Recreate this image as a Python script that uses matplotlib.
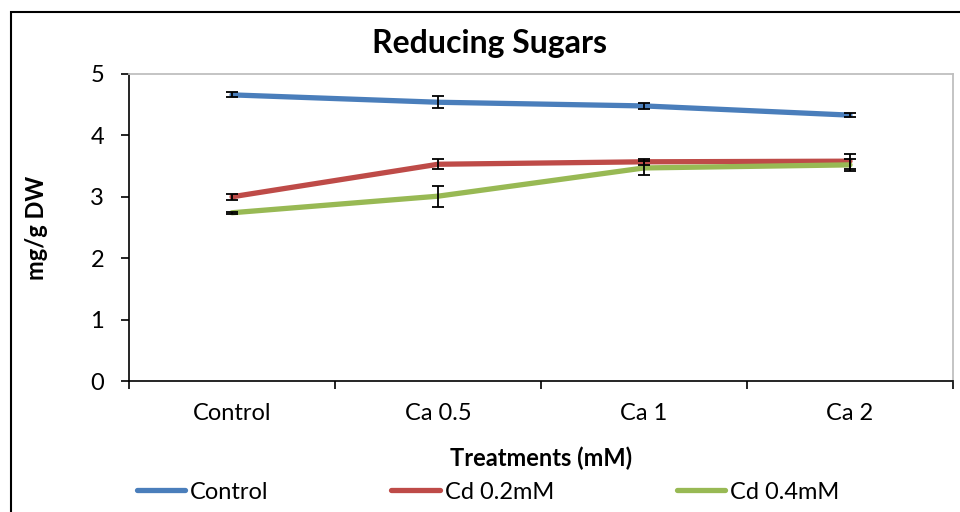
import matplotlib.pyplot as plt
from matplotlib.patches import Rectangle

plt.rcParams['font.family'] = ['Lato', 'DejaVu Sans']

treatments = ['Control', 'Ca 0.5', 'Ca 1', 'Ca 2']
series_names = ['Control', 'Cd 0.2mM', 'Cd 0.4mM']
control_vals = [4.66, 4.54, 4.48, 4.33]
control_err = [0.04, 0.10, 0.05, 0.03]
cd02_vals = [3.00, 3.53, 3.57, 3.58]
cd02_err = [0.05, 0.08, 0.05, 0.12]
cd04_vals = [2.74, 3.01, 3.47, 3.52]
cd04_err = [0.02, 0.17, 0.12, 0.10]
colors = ['#4A7EBB', '#BE4B48', '#98B954']

fig = plt.figure(figsize=(9.6, 5.12), dpi=100)
ax = fig.add_axes([129 / 960, 1 - 381 / 512, 824 / 960, 307 / 512])

x = range(len(treatments))
handles = []
for vals, err, c, name in zip([control_vals, cd02_vals, cd04_vals],
                              [control_err, cd02_err, cd04_err],
                              colors, series_names):
    ln, = ax.plot(x, vals, color=c, lw=3.8, solid_capstyle='round', label=name, zorder=2)
    ax.errorbar(x, vals, yerr=err, fmt='none', ecolor='black', elinewidth=1.3,
                capsize=4.5, capthick=1.3, zorder=3)
    handles.append(ln)

ax.set_xlim(-0.5, len(treatments) - 0.5)
ax.set_ylim(0, 5)
ax.set_yticks(range(6))
# ticks sit between categories, labels at category centres
ax.set_xticks([i + 0.5 for i in range(-1, len(treatments))], minor=False)
ax.set_xticklabels([])
ax.set_xticks(list(x), minor=True)
ax.set_xticklabels(treatments, minor=True)
ax.tick_params(axis='x', which='minor', length=0, labelsize=17, pad=16)
ax.tick_params(axis='x', which='major', length=6, direction='out', width=1.2)
ax.tick_params(axis='y', length=6, direction='out', width=1.2, labelsize=17, pad=12)

for s in ['top', 'right']:
    ax.spines[s].set_color('#BFBFBF')
    ax.spines[s].set_linewidth(1.3)
for s in ['left', 'bottom']:
    ax.spines[s].set_color('black')
    ax.spines[s].set_linewidth(1.2)

fig.text(490 / 960, 1 - 43 / 512, 'Reducing Sugars', fontsize=23, fontweight='bold',
         ha='center', va='center')
ax.set_xlabel('Treatments (mM)', fontsize=17, fontweight='bold', labelpad=16)
ax.set_ylabel('mg/g DW', fontsize=17, fontweight='bold', labelpad=30)

fig.legend(handles=handles, loc='center', bbox_to_anchor=(488 / 960, 0.039), ncol=3,
           frameon=False, fontsize=17, handlelength=2.05, handletextpad=0.2,
           columnspacing=5.2)

fig.patches.append(Rectangle((10.5 / 960, -0.1), 1.2, 1 - 11.5 / 512 + 0.1,
                             transform=fig.transFigure, fill=False,
                             edgecolor='black', lw=1.5))

plt.savefig('out.png', dpi=100)
